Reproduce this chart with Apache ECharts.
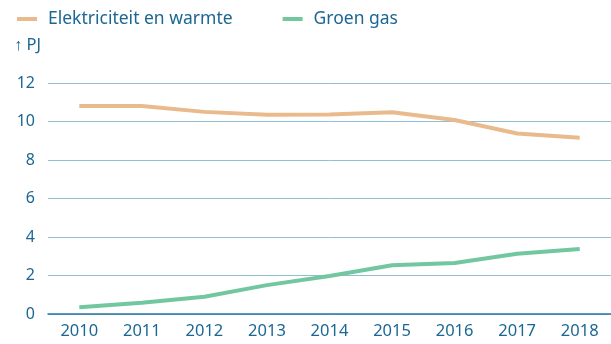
<!DOCTYPE html>
<html>
<head>
<meta charset="utf-8">
<script src="https://cdn.jsdelivr.net/npm/echarts@6/dist/echarts.min.js"></script>
<style>
  html, body { margin: 0; padding: 0; background: #fff; }
  #chart { width: 611px; height: 344px; }
</style>
</head>
<body>
<div id="chart"></div>
<script>
// Years on the horizontal axis
const years = ['2010', '2011', '2012', '2013', '2014', '2015', '2016', '2017', '2018'];
// Production in PJ
const elektriciteitEnWarmte = [10.8, 10.8, 10.5, 10.35, 10.37, 10.48, 10.08, 9.38, 9.16];
const groenGas = [0.35, 0.58, 0.9, 1.5, 1.97, 2.53, 2.65, 3.13, 3.38];
// Vertical axis ticks
const yTicks = [0, 2, 4, 6, 8, 10, 12];
const unitLabel = '↑ PJ';

const textColor = '#1b6794';
const fontFamily = '"Noto Sans", "Open Sans", sans-serif';

const chart = echarts.init(document.getElementById('chart'), null, { renderer: 'canvas' });
chart.setOption({
  animation: false,
  textStyle: { fontFamily: fontFamily, color: textColor },
  legend: {
    left: 12,
    top: 5,
    itemWidth: 20,
    itemHeight: 4,
    itemGap: 50,
    icon: 'rect',
    textStyle: { fontSize: 17.5, color: textColor, fontFamily: fontFamily, padding: [0, 0, 0, 6] },
    data: ['Elektriciteit en warmte', 'Groen gas']
  },
  graphic: [{
    type: 'text',
    left: 14,
    top: 37,
    style: { text: unitLabel, fontSize: 16.5, fill: textColor, fontFamily: fontFamily }
  }],
  grid: { left: 48, right: -14, top: 83, bottom: 30, containLabel: false },
  xAxis: {
    type: 'category',
    data: years,
    boundaryGap: true,
    axisLine: { show: true, lineStyle: { color: '#2a78a4', width: 1.5 } },
    axisTick: { show: false },
    axisLabel: { color: textColor, fontSize: 16.5, margin: 9, fontFamily: fontFamily }
  },
  yAxis: {
    type: 'value',
    min: yTicks[0],
    max: yTicks[yTicks.length - 1],
    interval: 2,
    axisLine: { show: false },
    axisTick: { show: false },
    axisLabel: { color: textColor, fontSize: 16, margin: 13, fontFamily: fontFamily },
    splitLine: { lineStyle: { color: '#8dbfd6', width: 1 } }
  },
  series: [
    {
      name: 'Elektriciteit en warmte',
      type: 'line',
      data: elektriciteitEnWarmte,
      symbol: 'none',
      smooth: false,
      itemStyle: { color: '#e9ba8c' },
      lineStyle: { color: '#e9ba8c', width: 4 }
    },
    {
      name: 'Groen gas',
      type: 'line',
      data: groenGas,
      symbol: 'none',
      itemStyle: { color: '#72c7a0' },
      lineStyle: { color: '#72c7a0', width: 4 }
    }
  ]
});
</script>
</body>
</html>
